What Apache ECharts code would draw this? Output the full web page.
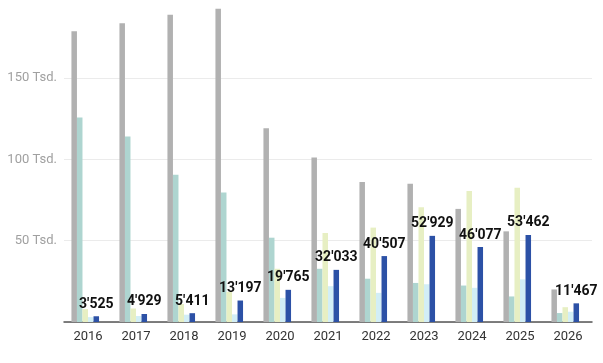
<!DOCTYPE html>
<html><head><meta charset="utf-8">
<script src="https://cdn.jsdelivr.net/npm/echarts@6/dist/echarts.min.js"></script>
<style>html,body{margin:0;padding:0;background:#fff;overflow:hidden}#c{position:absolute;left:0;top:-10px;width:603px;height:373px}</style>
</head><body><div id="c"></div>
<script>
var categories = ['2016','2017','2018','2019','2020','2021','2022','2023','2024','2025','2026'];
var seriesGray = [178600,183500,188800,192500,119000,101000,86000,85000,69500,55700,20000];
var seriesTeal = [125600,114000,90400,79500,51800,32700,26600,24000,22400,15700,5500];
var seriesYellow = [7900,8300,11000,18500,32700,54700,58000,70500,80500,82500,9100];
var seriesLightBlue = [3000,3700,4500,4700,14800,22000,17900,23200,21000,26200,6300];
var seriesDarkBlue = [3525,4929,5411,13197,19765,32033,40507,52929,46077,53462,11467];
var yTicks = [0,50000,100000,150000,200000];

function fmt(n){ return String(n).replace(/\B(?=(\d{3})+(?!\d))/g, "'"); }

var chart = echarts.init(document.getElementById('c'));
function bar(data, color, extra){
  var s = {type:'bar', data:data, barGap:'0%', barCategoryGap:'31%', itemStyle:{color:color}, silent:true};
  if(extra) Object.assign(s, extra);
  return s;
}
chart.setOption({
  animation:false,
  textStyle:{fontFamily:'Roboto'},
  grid:{left:64,right:11,top:4,bottom:41},
  xAxis:{type:'category', data:categories,
    axisLine:{lineStyle:{color:'#555',width:1.5}}, axisTick:{show:false},
    axisLabel:{color:'#333',fontSize:13,margin:8,fontFamily:'Roboto'}},
  yAxis:{type:'value', min:yTicks[0], max:yTicks[yTicks.length-1], interval:50000,
    axisLine:{show:false}, axisTick:{show:false},
    splitLine:{lineStyle:{color:'#ebebeb',width:1}},
    axisLabel:{color:'#a0a0a0',fontSize:13,margin:7,fontFamily:'Roboto',
      formatter:function(v){ return v===0?'':(v/1000)+' Tsd.'; }}},
  series:[
    bar(seriesGray,'#b1b1b1'),
    bar(seriesTeal,'#aed5d0'),
    bar(seriesYellow,'#e7efc3'),
    bar(seriesLightBlue,'#d2eef6'),
    bar(seriesDarkBlue,'#2c51a6',{label:{show:true,position:'top',distance:5,color:'#111',fontWeight:'bold',fontSize:14,fontFamily:'Roboto',
      formatter:function(p){return fmt(p.value);}}}),
    bar([],'rgba(0,0,0,0)')
  ]
});
</script></body></html>
